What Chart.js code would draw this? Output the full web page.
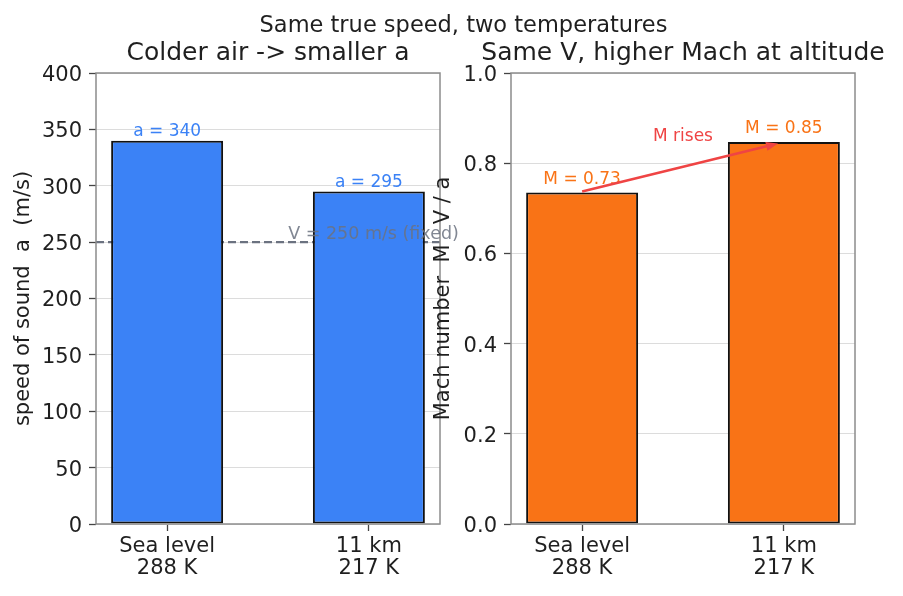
<!DOCTYPE html>
<html>
<head>
<meta charset="utf-8">
<script src="https://cdn.jsdelivr.net/npm/chart.js@4.4.1/dist/chart.umd.min.js"></script>
<style>
  html, body { margin: 0; padding: 0; background: #fff; }
  #wrap { position: relative; width: 903px; height: 596px; }
  #wrap canvas { position: absolute; left: 0; top: 0; }
</style>
</head>
<body>
<div id="wrap">
  <canvas id="speedChart" width="903" height="596"></canvas>
  <canvas id="machChart" width="903" height="596"></canvas>
</div>
<script>
// данные
const categories = [['Sea level', '288 K'], ['11 km', '217 K']];
const soundSpeed = [340, 295];
const trueSpeed = 250;
const machValues = [0.735, 0.847];
const speedTicks = [0, 50, 100, 150, 200, 250, 300, 350, 400];
const machTicks = [0, 0.2, 0.4, 0.6, 0.8, 1.0];

const xPos = categories.map((c, i) => i);
const xMin = -0.3525, xMax = 1.3525;

const BLUE = '#3b82f6';
const ORANGE = '#f97316';
const RED = '#ef4444';
const GRAY = '#6b7280';
const TEXT = '#1f1f1f';

Chart.defaults.font.family = "'DejaVu Sans', sans-serif";
Chart.defaults.color = TEXT;

function xScaleOpts() {
    return {
        type: 'linear',
        min: xMin,
        max: xMax,
        offset: false,
        afterBuildTicks: s => { s.ticks = xPos.map(v => ({ value: v })); },
        afterFit: s => { s.height = 72; },
        ticks: {
            callback: (v, i) => categories[i],
            font: { size: 21, lineHeight: 1.04 },
            color: TEXT,
            padding: 5,
            maxRotation: 0,
            autoSkip: false
        },
        grid: { offset: false, drawOnChartArea: false, tickLength: 7, tickColor: '#444', tickWidth: 1.3 },
        border: { display: false }
    };
}

function yScaleOpts(max, ticksArr, fmt, width, label, titlePad) {
    return {
        min: 0,
        max: max,
        afterBuildTicks: s => { s.ticks = ticksArr.map(v => ({ value: v })); },
        afterFit: s => { s.width = width; },
        ticks: {
            callback: fmt,
            font: { size: 21 },
            color: TEXT,
            padding: 7,
            labelOffset: 2.5,
            autoSkip: false
        },
        grid: { color: '#dcdcdc', lineWidth: 1, tickLength: 7, tickColor: '#444', tickWidth: 1.3 },
        border: { display: false },
        title: {
            display: true,
            text: label,
            font: { size: 21 },
            color: TEXT,
            padding: { top: titlePad, bottom: 0 }
        }
    };
}

// рамка и заголовок панели
function drawFrame(chart, title) {
    const { ctx, chartArea: a } = chart;
    ctx.save();
    ctx.strokeStyle = '#8c8c8c';
    ctx.lineWidth = 1.5;
    ctx.strokeRect(a.left, a.top, a.right - a.left, a.bottom - a.top);
    ctx.fillStyle = TEXT;
    ctx.font = "25px 'DejaVu Sans'";
    ctx.textAlign = 'center';
    ctx.textBaseline = 'alphabetic';
    ctx.fillText(title, (a.left + a.right) / 2, 60);
    ctx.restore();
}

function barLabels(chart, values, fmt, color, offset) {
    const { ctx, scales } = chart;
    ctx.save();
    ctx.fillStyle = color;
    ctx.font = "17px 'DejaVu Sans'";
    ctx.textAlign = 'center';
    ctx.textBaseline = 'alphabetic';
    values.forEach((v, i) => {
        ctx.fillText(fmt(v), scales.x.getPixelForValue(xPos[i]), scales.y.getPixelForValue(v) - offset);
    });
    ctx.restore();
}

const speedExtras = {
    id: 'speedExtras',
    afterDatasetsDraw(chart) {
        const { ctx, scales } = chart;
        drawFrame(chart, 'Colder air -> smaller a');
        barLabels(chart, soundSpeed, v => 'a = ' + v, BLUE, 4.5);

        ctx.save();
        ctx.globalAlpha = 0.85;
        ctx.fillStyle = GRAY;
        ctx.font = "17.5px 'DejaVu Sans'";
        ctx.textAlign = 'left';
        ctx.fillText('V = ' + trueSpeed + ' m/s (fixed)', scales.x.getPixelForValue(0.6), scales.y.getPixelForValue(trueSpeed) - 3);
        ctx.restore();

        ctx.save();
        ctx.fillStyle = TEXT;
        ctx.font = "22.5px 'DejaVu Sans'";
        ctx.textAlign = 'center';
        ctx.fillText('Same true speed, two temperatures', 463.5, 32);
        ctx.restore();
    }
};

const machExtras = {
    id: 'machExtras',
    afterDatasetsDraw(chart) {
        const { ctx, scales } = chart;
        drawFrame(chart, 'Same V, higher Mach at altitude');
        barLabels(chart, machValues, v => 'M = ' + v.toFixed(2), ORANGE, 9);

        // стрелка
        const x1 = scales.x.getPixelForValue(xPos[0]), y1 = scales.y.getPixelForValue(machValues[0]) - 1;
        let x2 = scales.x.getPixelForValue(xPos[1]), y2 = scales.y.getPixelForValue(machValues[1]);
        const len = Math.hypot(x2 - x1, y2 - y1);
        const ux = (x2 - x1) / len, uy = (y2 - y1) / len;
        x2 -= ux * 6; y2 -= uy * 6;
        const hl = 12, hw = 4.5;
        ctx.save();
        ctx.strokeStyle = RED;
        ctx.fillStyle = RED;
        ctx.lineWidth = 2.6;
        ctx.beginPath();
        ctx.moveTo(x1, y1);
        ctx.lineTo(x2 - ux * hl * 0.8, y2 - uy * hl * 0.8);
        ctx.stroke();
        ctx.beginPath();
        ctx.moveTo(x2, y2);
        ctx.lineTo(x2 - ux * hl - uy * hw, y2 - uy * hl + ux * hw);
        ctx.lineTo(x2 - ux * hl + uy * hw, y2 - uy * hl - ux * hw);
        ctx.closePath();
        ctx.fill();

        ctx.font = "17px 'DejaVu Sans'";
        ctx.textAlign = 'center';
        const mid = (machValues[0] + machValues[1]) / 2;
        ctx.fillText('M rises', scales.x.getPixelForValue(0.5), scales.y.getPixelForValue(mid + 0.06) + 1);
        ctx.restore();
    }
};

// скорость звука
new Chart(document.getElementById('speedChart'), {
    data: {
        datasets: [
            {
                type: 'bar',
                data: xPos.map((x, i) => ({ x: x, y: soundSpeed[i] })),
                backgroundColor: BLUE,
                borderColor: '#111',
                borderWidth: 2,
                borderSkipped: false,
                barPercentage: 0.555,
                categoryPercentage: 1,
                order: 1
            },
            {
                type: 'line',
                data: [{ x: xMin, y: trueSpeed }, { x: xMax, y: trueSpeed }],
                borderColor: GRAY,
                borderWidth: 2.2,
                borderDash: [8, 4],
                pointRadius: 0,
                order: 2
            }
        ]
    },
    options: {
        responsive: false,
        devicePixelRatio: 1,
        animation: false,
        layout: { padding: { left: 0, right: 463, top: 73, bottom: 0 } },
        plugins: { legend: { display: false }, tooltip: { enabled: false } },
        scales: {
            x: xScaleOpts(),
            y: yScaleOpts(400, speedTicks, v => v, 96, 'speed of sound  a  (m/s)', 11.4)
        }
    },
    plugins: [speedExtras]
});

// число Маха
new Chart(document.getElementById('machChart'), {
    data: {
        datasets: [
            {
                type: 'bar',
                data: xPos.map((x, i) => ({ x: x, y: machValues[i] })),
                backgroundColor: ORANGE,
                borderColor: '#111',
                borderWidth: 2,
                borderSkipped: false,
                barPercentage: 0.555,
                categoryPercentage: 1
            }
        ]
    },
    options: {
        responsive: false,
        devicePixelRatio: 1,
        animation: false,
        layout: { padding: { left: 420, right: 48, top: 73, bottom: 0 } },
        plugins: { legend: { display: false }, tooltip: { enabled: false } },
        scales: {
            x: xScaleOpts(),
            y: yScaleOpts(1, machTicks, v => v.toFixed(1), 91, 'Mach number  M   V / a', 11.4)
        }
    },
    plugins: [machExtras]
});
</script>
</body>
</html>
